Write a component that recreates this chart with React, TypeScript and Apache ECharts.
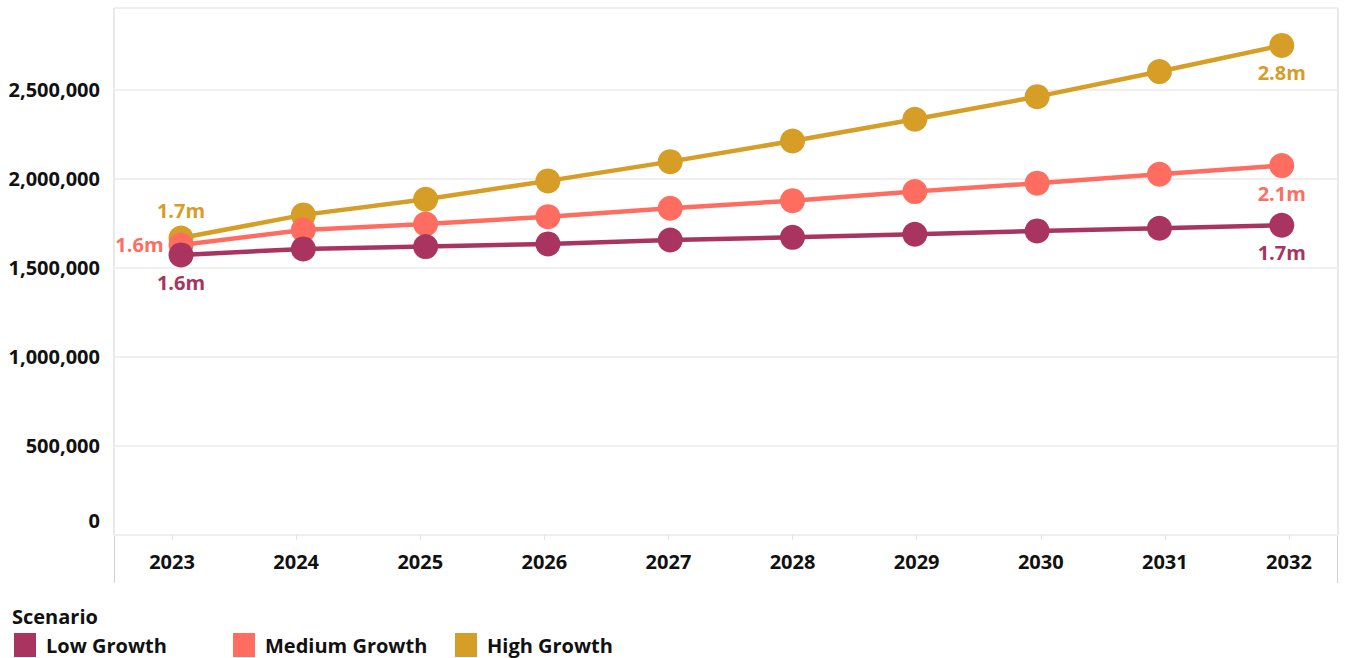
import React, { useEffect, useRef } from "react";
import * as echarts from "echarts";

const years = ["2023", "2024", "2025", "2026", "2027", "2028", "2029", "2030", "2031", "2032"];
const lowGrowth = [1573000, 1607000, 1620000, 1635000, 1657000, 1672000, 1689000, 1708000, 1723000, 1740000];
const mediumGrowth = [1629000, 1713000, 1747000, 1788000, 1835000, 1878000, 1929000, 1976000, 2026000, 2075000];
const highGrowth = [1668000, 1798000, 1886000, 1989000, 2097000, 2213000, 2335000, 2462000, 2603000, 2750000];
const yTicks = [0, 500000, 1000000, 1500000, 2000000, 2500000];
const legendNames = ["Low Growth", "Medium Growth", "High Growth"];

const FONT = "'Open Sans', 'Noto Sans', sans-serif";
const COLORS = { low: "#A8345F", medium: "#FE6D5F", high: "#D69D27" };
const FS = 20;

export default function App() {
  const ref = useRef<HTMLDivElement>(null);

  useEffect(() => {
    if (!ref.current) return;
    const chart = echarts.init(ref.current, null, { renderer: "svg" });

    const fmtM = (v: number) => (v / 1e6).toFixed(1) + "m";

    const build = (name: string, values: number[], color: string, firstPos: string) => ({
      name,
      type: "line",
      xAxisIndex: 0,
      yAxisIndex: 0,
      symbol: "circle",
      symbolSize: 25,
      lineStyle: { width: 4.5, color },
      itemStyle: { color },
      emphasis: { disabled: true },
      data: values.map((v, i) => {
        const item: any = { value: [Number(years[i]), v] };
        if (i === 0 || i === values.length - 1) {
          item.label = {
            show: true,
            position: i === 0 ? firstPos : "bottom",
            distance: 5,
            formatter: (p: any) => fmtM(p.value[1]),
            color,
            fontFamily: FONT,
            fontWeight: "bold",
            fontSize: FS,
          };
        }
        return item;
      }),
    });

    const legendLefts = [14, 233, 455];
    const legends = legendNames.map((n, i) => ({
      data: [n],
      left: legendLefts[i],
      top: 633,
      padding: 0,
      icon: "rect",
      itemWidth: 22,
      itemHeight: 24,
      selectedMode: false,
      textStyle: {
        fontFamily: FONT,
        fontWeight: "bold",
        fontSize: FS,
        color: "#111",
        padding: [0, 0, 0, 5],
      },
    }));

    const option: any = {
      animation: false,
      backgroundColor: "#ffffff",
      title: {
        text: "Scenario",
        left: 12,
        top: 606,
        padding: 0,
        textStyle: { fontFamily: FONT, fontWeight: "bold", fontSize: FS, color: "#111" },
      },
      legend: legends,
      grid: [
        {
          left: 114,
          right: 13,
          top: 8,
          bottom: 123,
          show: true,
          borderColor: "#D3D3D3",
          borderWidth: 1,
          backgroundColor: "transparent",
        },
        { left: 110, right: -1, top: 8, bottom: 123 },
      ],
      xAxis: [
        {
          type: "value",
          gridIndex: 0,
          min: 2022.452,
          max: 2032.46,
          axisLine: { show: false },
          axisTick: { show: false },
          axisLabel: { show: false },
          splitLine: { show: false },
        },
        {
          type: "category",
          gridIndex: 1,
          data: years,
          boundaryGap: true,
          axisLine: { show: false },
          axisTick: { show: true, alignWithLabel: true, length: 5, lineStyle: { color: "#E3E3E3" } },
          axisLabel: {
            margin: 16,
            fontFamily: FONT,
            fontWeight: "bold",
            fontSize: FS,
            color: "#111",
          },
          splitLine: { show: false },
        },
      ],
      yAxis: [
        {
          type: "value",
          gridIndex: 0,
          min: yTicks[0],
          max: 2960000,
          interval: yTicks[1] - yTicks[0],
          axisLine: { show: false },
          axisTick: { show: false },
          splitLine: { show: true, lineStyle: { color: "#EFEFEF", width: 2 } },
          axisLabel: {
            showMaxLabel: false,
            margin: 14,
            fontFamily: FONT,
            fontWeight: "bold",
            fontSize: FS,
            color: "#111",
            formatter: (v: number) => (v === 0 ? "{z|0}" : v.toLocaleString("en-US")),
            rich: {
              z: {
                fontFamily: FONT,
                fontWeight: "bold",
                fontSize: FS,
                color: "#111",
                padding: [0, 0, 30, 0],
              },
            },
          },
        },
        { type: "value", gridIndex: 1, min: 0, max: 1, show: false },
      ],
      graphic: [
        {
          type: "line",
          shape: { x1: 114.5, y1: 535, x2: 114.5, y2: 583 },
          style: { stroke: "#D3D3D3", lineWidth: 1 },
        },
        {
          type: "line",
          shape: { x1: 1337.5, y1: 535, x2: 1337.5, y2: 583 },
          style: { stroke: "#D3D3D3", lineWidth: 1 },
        },
      ],
      series: [
        build("High Growth", highGrowth, COLORS.high, "top"),
        build("Medium Growth", mediumGrowth, COLORS.medium, "left"),
        build("Low Growth", lowGrowth, COLORS.low, "bottom"),
      ],
    };

    chart.setOption(option);
    return () => chart.dispose();
  }, []);

  return (
    <div ref={ref} style={{ position: "absolute", left: 0, top: 0, width: 1351, height: 658 }} />
  );
}
